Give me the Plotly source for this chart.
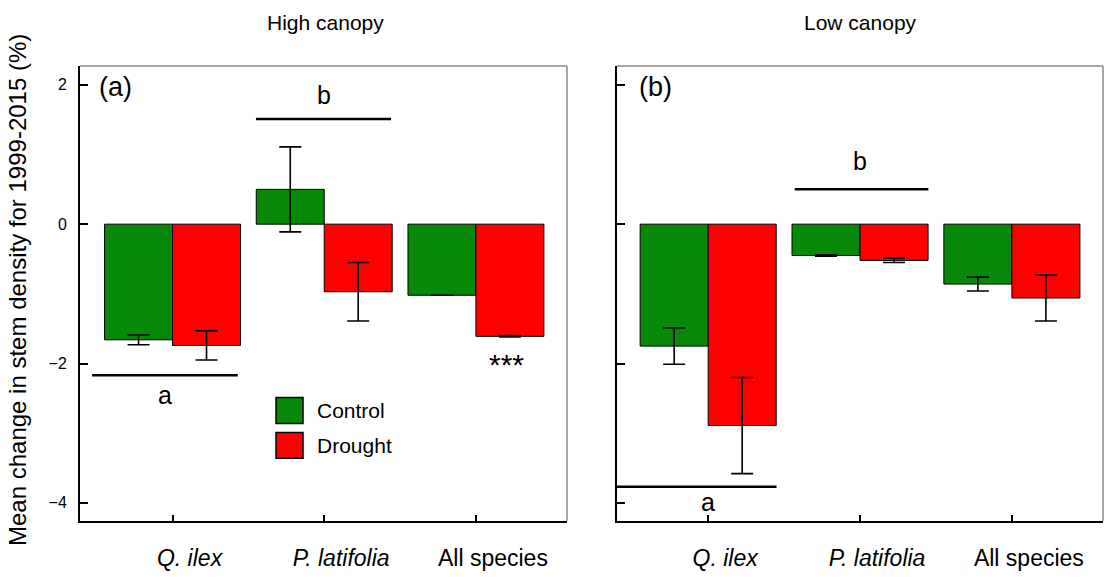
import plotly.graph_objects as go

species = ["Q. ilex", "P. latifolia", "All species"]
tick_text = ["<i>Q. ilex</i>", "<i>P. latifolia</i>", "All species"]

high_control = [-1.66, 0.50, -1.02]
high_control_err = [0.07, 0.61, 0.0]
high_drought = [-1.74, -0.97, -1.61]
high_drought_err = [0.21, 0.42, 0.01]

low_control = [-1.75, -0.45, -0.86]
low_control_err = [0.26, 0.01, 0.10]
low_drought = [-2.89, -0.52, -1.06]
low_drought_err = [0.69, 0.03, 0.33]

GREEN = "#088808"
RED = "#FF0000"
FONT = "Liberation Sans, Arial, sans-serif"

fig = go.Figure()


def add_bars(vals, errs, color, name, xa, ya):
    fig.add_trace(go.Bar(
        x=species, y=vals, name=name, xaxis=xa, yaxis=ya,
        marker=dict(color=color, line=dict(color="black", width=1)),
        error_y=dict(type="data", array=errs, visible=True, color="black",
                     thickness=1.6, width=11),
        showlegend=False, offsetgroup=name,
    ))


add_bars(high_control, high_control_err, GREEN, "Control", "x", "y")
add_bars(high_drought, high_drought_err, RED, "Drought", "x", "y")
add_bars(low_control, low_control_err, GREEN, "Control", "x2", "y2")
add_bars(low_drought, low_drought_err, RED, "Drought", "x2", "y2")

yrange = [-4.26, 2.27]
xcommon = dict(type="category", categoryorder="array", categoryarray=species,
               tickmode="array", tickvals=species, ticktext=tick_text,
               ticks="inside", ticklen=6, tickwidth=1.5, tickcolor="black",
               showline=True, linecolor="black", linewidth=2,
               showgrid=False, zeroline=False,
               tickfont=dict(family=FONT, size=23, color="black"),
               ticklabelstandoff=15, ticklabelshift=17)
ycommon = dict(range=yrange, tickvals=[-4, -2, 0, 2], ticktext=["\u22124", "\u22122", "0", "2"],
               ticks="inside", ticklen=8, tickwidth=1.5, tickcolor="black",
               showline=True, linecolor="black", linewidth=2,
               showgrid=False, zeroline=False,
               tickfont=dict(family=FONT, size=16, color="black"))

fig.update_layout(
    width=1109, height=577,
    margin=dict(l=80, r=6, t=66, b=54),
    paper_bgcolor="white", plot_bgcolor="white",
    barmode="group", bargap=0.104, bargroupgap=0,
    font=dict(family=FONT, color="black"),
    xaxis=dict(domain=[0, 0.476], range=[-0.61, 2.6], anchor="y", **xcommon),
    xaxis2=dict(domain=[0.525, 1.0], range=[-0.6, 2.6], anchor="y2", **xcommon),
    yaxis=dict(anchor="x", ticklabelstandoff=8, **ycommon),
    yaxis2=dict(anchor="x2", showticklabels=False, **ycommon),
)

shapes = []
# top / right frame lines (grey)
for xr, yr in [("x domain", "y domain"), ("x2 domain", "y2 domain")]:
    shapes.append(dict(type="line", xref=xr, yref=yr, x0=0, x1=1, y0=1, y1=1,
                       line=dict(color="#8a8a8a", width=1.5)))
    shapes.append(dict(type="line", xref=xr, yref=yr, x0=1, x1=1, y0=0, y1=1,
                       line=dict(color="#8a8a8a", width=1.5)))

# significance lines
sig_lines = [
    ("x", "y", -0.53, 0.43, -2.17),
    ("x", "y", 0.55, 1.44, 1.51),
    ("x2", "y2", -0.6, 0.45, -3.77),
    ("x2", "y2", 0.57, 1.45, 0.50),
]
for xr, yr, x0, x1, yv in sig_lines:
    shapes.append(dict(type="line", xref=xr, yref=yr, x0=x0, x1=x1, y0=yv, y1=yv,
                       line=dict(color="black", width=2.5)))

# custom legend swatches
shapes.append(dict(type="rect", xref="paper", yref="paper", x0=0.1916, x1=0.218,
                   y0=0.2144, y1=0.2713, fillcolor=GREEN, line=dict(color="black", width=1.5)))
shapes.append(dict(type="rect", xref="paper", yref="paper", x0=0.1916, x1=0.218,
                   y0=0.1379, y1=0.1947, fillcolor=RED, line=dict(color="black", width=1.5)))
fig.update_layout(shapes=shapes)


def A(text, xref, yref, x, y, size, xanchor="center", yanchor="middle", **kw):
    return dict(text=text, xref=xref, yref=yref, x=x, y=y, showarrow=False,
                xanchor=xanchor, yanchor=yanchor,
                font=dict(size=size, family=FONT, color="black"), **kw)


ann = [
    A("High canopy", "paper", "paper", 0.2395, 1.096, 21),
    A("Low canopy", "paper", "paper", 0.7625, 1.096, 21),
    A("Mean change in stem density for 1999-2015 (%)", "paper", "paper",
      -0.0606, 0.5077, 24, textangle=-90),
    A("(a)", "x domain", "y domain", 0.035, 0.954, 27, xanchor="left"),
    A("(b)", "x2 domain", "y2 domain", 0.04, 0.954, 27, xanchor="left"),
    A("b", "x", "y", 1.0, 1.86, 25),
    A("a", "x", "y", -0.05, -2.45, 25),
    A("***", "x", "y", 2.2, -2.01, 30),
    A("b", "x2", "y2", 1.0, 0.9, 25),
    A("a", "x2", "y2", 0.0, -3.99, 25),
    A("Control", "paper", "paper", 0.2297, 0.2429, 21, xanchor="left"),
    A("Drought", "paper", "paper", 0.2297, 0.1663, 21, xanchor="left"),
]
fig.update_layout(annotations=ann)

fig.write_html("out.html")
